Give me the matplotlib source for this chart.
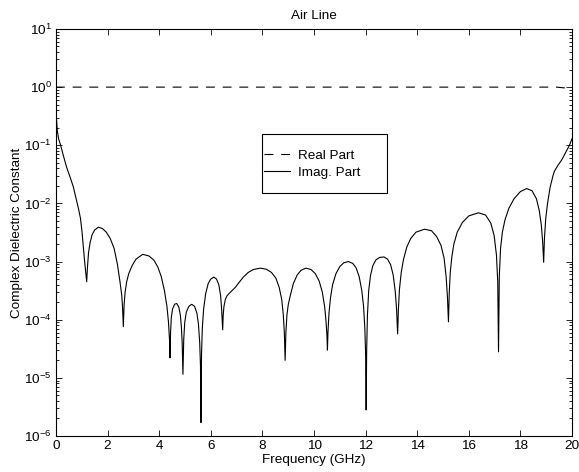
import numpy as np
import matplotlib
matplotlib.use("Agg")
import matplotlib.pyplot as plt
from matplotlib.patches import Rectangle

plt.rcParams['font.family'] = ['Liberation Sans', 'DejaVu Sans']
plt.rcParams['mathtext.fontset'] = 'custom'
plt.rcParams['mathtext.rm'] = 'Liberation Sans'
plt.rcParams['mathtext.it'] = 'Liberation Sans'
plt.rcParams['font.size'] = 9.7

# real part of the permittivity (GHz, value)
freq_real = [0.0, 19.4, 19.7, 20.0]
eps_real = [1.0, 1.0, 0.97, 0.94]

# imaginary part, one row per lobe
freq_imag = [
    0.00, 0.02, 0.05, 0.10, 0.18, 0.30, 0.41, 0.55, 0.67, 0.78, 0.87, 0.95, 1.01, 1.06, 1.11, 1.15,
    1.19, 1.22, 1.26, 1.32, 1.40, 1.50, 1.64, 1.80, 1.95, 2.10, 2.25, 2.38, 2.48, 2.55, 2.58,
    2.61, 2.64, 2.68, 2.74, 2.82, 2.95, 3.10, 3.36, 3.60, 3.80, 3.95, 4.08, 4.20, 4.30, 4.36, 4.40,
    4.42, 4.44, 4.47, 4.52, 4.60, 4.68, 4.76, 4.82, 4.86, 4.89,
    4.92, 4.95, 4.99, 5.05, 5.15, 5.26, 5.37, 5.46, 5.52, 5.57, 5.60,
    5.62, 5.64, 5.67, 5.72, 5.80, 5.90, 6.00, 6.12, 6.22, 6.31, 6.38, 6.42, 6.44,
    6.46, 6.48, 6.51, 6.56, 6.62, 6.70, 6.80, 6.95, 7.10, 7.26, 7.45, 7.65, 7.91, 8.15, 8.35,
    8.52, 8.65, 8.75, 8.81, 8.85,
    8.88, 8.91, 8.95, 9.00, 9.08, 9.20, 9.35, 9.50, 9.69, 9.88, 10.05, 10.20, 10.32, 10.41,
    10.46, 10.50,
    10.52, 10.54, 10.58, 10.64, 10.72, 10.85, 11.00, 11.15, 11.33, 11.50, 11.63, 11.75, 11.85,
    11.92, 11.97, 12.00,
    12.02, 12.04, 12.07, 12.12, 12.19, 12.28, 12.40, 12.55, 12.71, 12.85, 12.97, 13.07, 13.15,
    13.20,
    13.24, 13.27, 13.31, 13.38, 13.47, 13.60, 13.75, 13.95, 14.28, 14.55, 14.75, 14.92, 15.04,
    15.12, 15.17,
    15.21, 15.24, 15.28, 15.34, 15.42, 15.55, 15.75, 16.00, 16.37, 16.65, 16.85, 16.98, 17.07,
    17.12,
    17.15, 17.18, 17.23, 17.30, 17.40, 17.55, 17.75, 18.00, 18.24, 18.45, 18.62, 18.73, 18.81,
    18.86,
    18.90, 18.93, 18.98, 19.05, 19.15, 19.27, 19.32, 19.45, 19.60, 19.75, 19.90, 20.00,
]
eps_imag = [
    0.45, 0.28, 0.18, 0.13, 0.10, 0.063, 0.042, 0.028, 0.0194, 0.012, 0.0082, 0.0055, 0.0032, 0.0018, 1.0e-3, 6.8e-4,
    4.5e-4, 8e-4, 1.4e-3, 2.1e-3, 2.9e-3, 3.5e-3, 3.9e-3, 3.7e-3, 3.2e-3, 2.5e-3, 1.7e-3, 9e-4, 4.5e-4, 2.6e-4, 1.6e-4,
    7.6e-5, 1.8e-4, 3.0e-4, 4.5e-4, 6.2e-4, 8.5e-4, 1.1e-3, 1.33e-3, 1.25e-3, 1.05e-3, 8.0e-4, 5.5e-4, 3.2e-4, 1.7e-4, 9e-5, 4.5e-5,
    2.2e-5, 6e-5, 1.1e-4, 1.55e-4, 1.85e-4, 1.9e-4, 1.65e-4, 1.2e-4, 7.5e-5, 4e-5,
    1.15e-5, 4.5e-5, 9e-5, 1.35e-4, 1.7e-4, 1.84e-4, 1.7e-4, 1.3e-4, 8.5e-5, 4e-5, 1.6e-5,
    1.7e-6, 2.5e-5, 7e-5, 1.5e-4, 2.8e-4, 4.2e-4, 5.0e-4, 5.4e-4, 5.0e-4, 4.0e-4, 2.6e-4, 1.5e-4, 1e-4,
    6.7e-5, 1.2e-4, 1.7e-4, 2.2e-4, 2.55e-4, 2.8e-4, 3.1e-4, 3.6e-4, 4.4e-4, 5.4e-4, 6.5e-4, 7.3e-4, 7.7e-4, 7.4e-4, 6.5e-4,
    5.2e-4, 3.6e-4, 2.2e-4, 1.2e-4, 6e-5,
    2.0e-5, 6e-5, 1.2e-4, 1.8e-4, 2.6e-4, 4.2e-4, 5.9e-4, 7.1e-4, 7.7e-4, 7.3e-4, 6.2e-4, 4.6e-4, 3.0e-4, 1.7e-4,
    1.0e-4, 5.5e-5,
    3e-5, 6e-5, 1.3e-4, 2.4e-4, 4.0e-4, 6.2e-4, 8.2e-4, 9.5e-4, 1.0e-3, 9.3e-4, 7.8e-4, 5.5e-4, 3.2e-4,
    1.7e-4, 7e-5, 2.5e-5,
    2.8e-6, 3e-5, 1.2e-4, 3.2e-4, 5.8e-4, 8.5e-4, 1.07e-3, 1.18e-3, 1.2e-3, 1.1e-3, 8.8e-4, 5.8e-4, 3.0e-4,
    1.5e-4,
    5.7e-5, 1.5e-4, 3.3e-4, 6.5e-4, 1.1e-3, 1.8e-3, 2.5e-3, 3.2e-3, 3.6e-3, 3.4e-3, 2.7e-3, 1.9e-3, 1.15e-3,
    5.5e-4, 2.5e-4,
    9.2e-5, 2.8e-4, 6.5e-4, 1.2e-3, 2.0e-3, 3.2e-3, 4.7e-3, 6.1e-3, 6.9e-3, 6.3e-3, 4.6e-3, 2.8e-3, 1.3e-3,
    4.5e-4,
    2.8e-5, 5.5e-4, 1.7e-3, 3.2e-3, 5.2e-3, 8.2e-3, 1.2e-2, 1.6e-2, 1.8e-2, 1.65e-2, 1.2e-2, 7.5e-3, 4.2e-3,
    2.2e-3,
    9.7e-4, 2.5e-3, 5.5e-3, 1.0e-2, 1.9e-2, 3.1e-2, 3.6e-2, 4.5e-2, 5.6e-2, 7.5e-2, 0.10, 0.13,
]

xticks = np.arange(0, 21, 2)

fig = plt.figure(figsize=(5.79, 4.72), dpi=100)
ax = fig.add_axes([0.0967, 0.0763, 0.8913, 0.8623])

ax.semilogy(freq_real, eps_real, color='black', lw=0.8,
            linestyle=(0, (8, 7)), label='Real Part')
ax.semilogy(freq_imag, eps_imag, color='black', lw=0.8, label='Imag. Part')

ax.set_xlim(0, 20)
ax.set_ylim(1e-6, 1e1)
ax.set_xticks(xticks)
ax.set_xticklabels([str(t) for t in xticks])

ax.tick_params(which='both', direction='in', top=True, right=True,
               width=0.6, labelsize=9.7)
ax.tick_params(which='major', length=4, pad=3)
ax.tick_params(which='minor', length=2)
ax.tick_params(axis='x', which='minor', bottom=False, top=False)
for sp in ax.spines.values():
    sp.set_linewidth(0.8)

ax.set_title('Air Line', fontsize=9.7, pad=7)
ax.set_xlabel('Frequency (GHz)', fontsize=9.7, labelpad=1)
ax.set_ylabel('Complex Dielectric Constant', fontsize=9.7, labelpad=1)

# legend box drawn by hand so it can be wider than its contents
box = Rectangle((0.399, 0.596), 0.242, 0.146, transform=ax.transAxes,
                facecolor='white', edgecolor='black', lw=0.8, zorder=4)
ax.add_patch(box)
leg = ax.legend(loc='center left', bbox_to_anchor=(0.403, 0.668),
                frameon=False, handlelength=1.9, handletextpad=0.6,
                borderpad=0.0, labelspacing=0.3, borderaxespad=0.0,
                fontsize=9.7)
leg.set_zorder(5)

fig.savefig('out.png', dpi=100)
